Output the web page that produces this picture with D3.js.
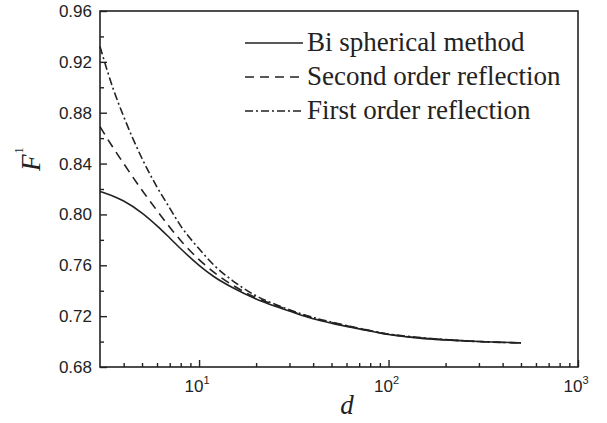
<!DOCTYPE html>
<html>
<head>
<meta charset="utf-8">
<script src="https://d3js.org/d3.v7.min.js"></script>
<style>
  body { margin: 0; background: #fff; }
  svg { display: block; }
</style>
</head>
<body>
<script>
const margem = {topo: 11, direita: 29, base: 56, esquerda: 100}
const largura = 607 - margem.esquerda - margem.direita
const altura = 423 - margem.topo - margem.base

// valores
const distancias = [3, 3.5, 4, 5, 6, 7, 8, 10, 12, 15, 20, 25, 30, 40, 50, 70,
  100, 150, 200, 300, 500]

const biEsferico = [0.818, 0.8145, 0.8105, 0.801, 0.791, 0.7815, 0.773, 0.760,
  0.751, 0.7425, 0.7335, 0.728, 0.724, 0.718, 0.7145, 0.710, 0.7055, 0.7025,
  0.7013, 0.700, 0.699]

const segundaOrdem = [0.869, 0.853, 0.840, 0.819, 0.803, 0.790, 0.7795, 0.7645,
  0.7545, 0.7445, 0.7345, 0.729, 0.7245, 0.7185, 0.715, 0.7103, 0.7058, 0.7027,
  0.7014, 0.700, 0.699]

const primeiraOrdem = [0.932, 0.900, 0.877, 0.844, 0.8215, 0.805, 0.791, 0.773,
  0.760, 0.748, 0.736, 0.7295, 0.725, 0.719, 0.7153, 0.7105, 0.706, 0.703,
  0.7015, 0.700, 0.699]

const nomesSeries = ['Bi spherical method', 'Second order reflection', 'First order reflection']
const tracos = ['none', '9,6', '8,3,2,3']

const rotulosY = [0.68, 0.72, 0.76, 0.80, 0.84, 0.88, 0.92, 0.96]
const menoresY = [0.70, 0.74, 0.78, 0.82, 0.86, 0.90, 0.94]
const expoentesX = [1, 2, 3]
const menoresX = [4, 5, 6, 7, 8, 9, 20, 30, 40, 50, 60, 70, 80, 90,
  200, 300, 400, 500, 600, 700, 800, 900]

const cor = '#222'

var svg = d3.select('body')
            .append('svg')
              .attr('width', 607)
              .attr('height', 423)

var grupo = svg.append('g')
               .attr('transform', 'translate(' + margem.esquerda + ',' + margem.topo + ')')

var escalaX = d3.scaleLog()
                .domain([3, 1000])
                .range([0, largura])

var escalaY = d3.scaleLinear()
                .domain([0.68, 0.96])
                .range([altura, 0])

// eixos: marcas para dentro
var eixoEsquerda = d3.axisLeft(escalaY)
                     .tickValues(rotulosY)
                     .tickFormat(d3.format('.2f'))
                     .tickSizeInner(-7)
                     .tickSizeOuter(0)
                     .tickPadding(8)

var eixoEsquerdaMenor = d3.axisLeft(escalaY)
                          .tickValues(menoresY)
                          .tickFormat('')
                          .tickSizeInner(-4)
                          .tickSizeOuter(0)

var eixoBase = d3.axisBottom(escalaX)
                 .tickValues(expoentesX.map(e => Math.pow(10, e)))
                 .tickFormat('')
                 .tickSizeInner(-7)
                 .tickSizeOuter(0)

var eixoBaseMenor = d3.axisBottom(escalaX)
                      .tickValues(menoresX)
                      .tickFormat('')
                      .tickSizeInner(-4)
                      .tickSizeOuter(0)

grupo.append('g').attr('class', 'eixo').call(eixoEsquerda)
grupo.append('g').attr('class', 'eixo').call(eixoEsquerdaMenor)
grupo.append('g').attr('class', 'eixo')
     .attr('transform', 'translate(0,' + altura + ')').call(eixoBase)
grupo.append('g').attr('class', 'eixo')
     .attr('transform', 'translate(0,' + altura + ')').call(eixoBaseMenor)

grupo.selectAll('.eixo .domain').remove()
grupo.selectAll('.eixo line')
     .attr('stroke', cor)
     .attr('stroke-width', 1.4)
grupo.selectAll('.eixo text')
     .attr('fill', cor)
     .style('font-family', '"Liberation Sans", Arial, sans-serif')
     .style('font-size', '17px')

// rotulos 10^n
var rotulosX = grupo.append('g')
                    .selectAll('text')
                    .data(expoentesX)
                    .join('text')
                      .attr('x', d => escalaX(Math.pow(10, d)) - 2)
                      .attr('y', altura + 25)
                      .attr('text-anchor', 'middle')
                      .attr('fill', cor)
                      .style('font-family', '"Liberation Sans", Arial, sans-serif')
                      .style('font-size', '17px')

rotulosX.append('tspan').text('10')
rotulosX.append('tspan')
        .attr('dy', -8)
        .style('font-size', '11px')
        .text(d => d)

// moldura
grupo.append('rect')
     .attr('width', largura)
     .attr('height', altura)
     .attr('fill', 'none')
     .attr('stroke', cor)
     .attr('stroke-width', 1.6)

// curvas
var gerador = d3.line()
                .x(d => escalaX(d[0]))
                .y(d => escalaY(d[1]))
                .curve(d3.curveMonotoneX)

var series = [biEsferico, segundaOrdem, primeiraOrdem]

series.forEach(function (valores, i) {
  grupo.append('path')
       .attr('d', gerador(distancias.map((d, j) => [d, valores[j]])))
       .attr('fill', 'none')
       .attr('stroke', cor)
       .attr('stroke-width', 1.6)
       .attr('stroke-dasharray', tracos[i])
})

// legenda
var legenda = grupo.append('g')
                   .attr('transform', 'translate(145, 32)')

nomesSeries.forEach(function (nome, i) {
  legenda.append('line')
         .attr('x1', 0)
         .attr('x2', 58)
         .attr('y1', i * 34)
         .attr('y2', i * 34)
         .attr('stroke', cor)
         .attr('stroke-width', 1.5)
         .attr('stroke-dasharray', tracos[i])

  legenda.append('text')
         .attr('x', 62)
         .attr('y', i * 34 + 8)
         .attr('fill', cor)
         .style('font-family', '"Liberation Serif", "Times New Roman", serif')
         .style('font-size', '27px')
         .text(nome)
})

// titulos dos eixos
svg.append('text')
   .attr('x', 347)
   .attr('y', 414)
   .attr('text-anchor', 'middle')
   .attr('fill', cor)
   .style('font-family', '"Liberation Serif", "Times New Roman", serif')
   .style('font-style', 'italic')
   .style('font-size', '27px')
   .text('d')

var tituloY = svg.append('text')
                 .attr('transform', 'translate(40,171) rotate(-90)')
                 .attr('fill', cor)
                 .style('font-family', '"Liberation Serif", "Times New Roman", serif')
                 .style('font-size', '27px')

tituloY.append('tspan').style('font-style', 'italic').text('F')
tituloY.append('tspan')
       .attr('dy', -17)
       .attr('dx', 1)
       .style('font-size', '12px')
       .text('1')
</script>
</body>
</html>
